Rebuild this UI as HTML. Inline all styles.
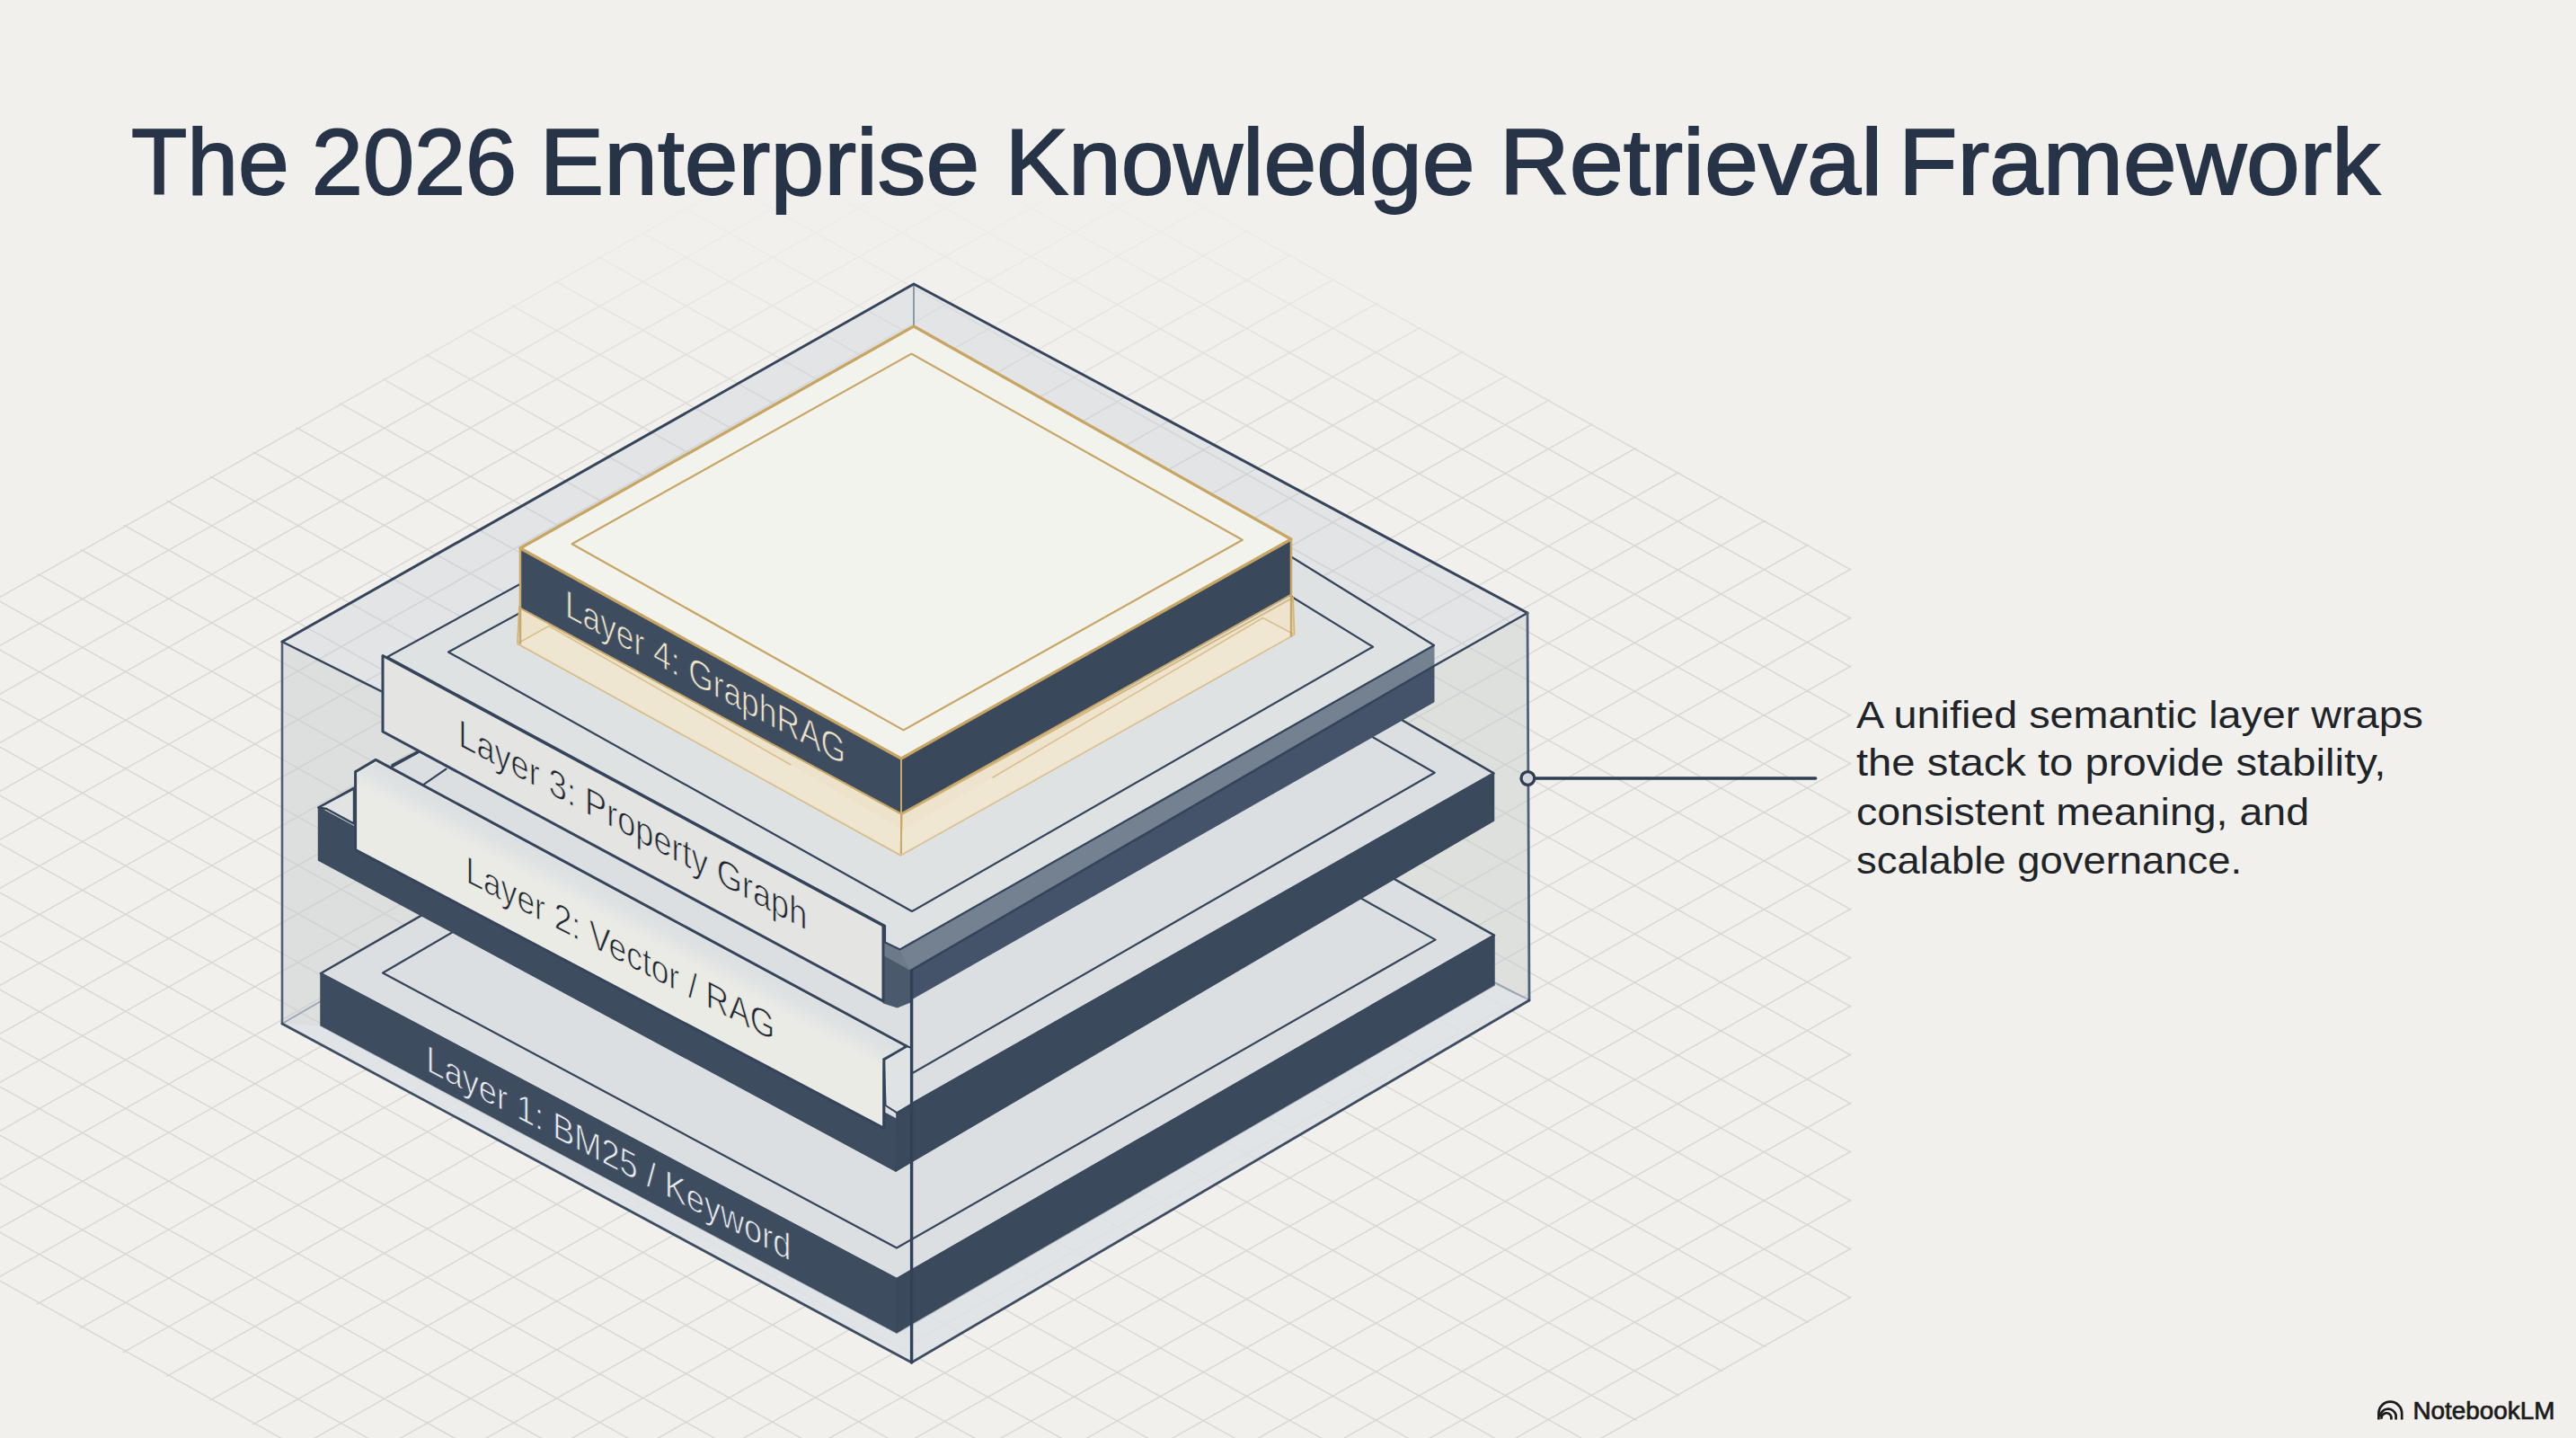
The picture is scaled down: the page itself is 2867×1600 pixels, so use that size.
<!DOCTYPE html>
<html lang="en"><head><meta charset="utf-8"><title>The 2026 Enterprise Knowledge Retrieval Framework</title>
<style>html,body{margin:0;padding:0;background:#f1f0ec;}body{width:2867px;height:1600px;overflow:hidden;}svg{display:block;}</style>
</head><body>
<svg width="2867" height="1600" viewBox="0 0 2867 1600">
<rect x="0" y="0" width="2867" height="1600" fill="#f1f0ec"/>
<defs>
<clipPath id="gclip"><polygon points="-2,663 1051.5,67.6 2060.4,632.4 2060.4,1444.6 1783.7,1602 311.5,1602 -2,1427.5"/></clipPath>
<linearGradient id="gfadeT" x1="0" y1="0" x2="0" y2="1"><stop offset="0" stop-color="#fff" stop-opacity="0"/><stop offset="1" stop-color="#fff" stop-opacity="1"/></linearGradient>
<mask id="gmask" maskUnits="userSpaceOnUse" x="0" y="0" width="2867" height="1600"><rect x="0" y="0" width="2867" height="1600" fill="#000"/><rect x="0" y="200" width="2867" height="300" fill="url(#gfadeT)"/><rect x="0" y="499.5" width="2867" height="1101" fill="#fff"/></mask>
</defs>
<g clip-path="url(#gclip)"><g stroke="#cbcccb" stroke-width="1.5" opacity="0.66" mask="url(#gmask)">
<line x1="0" y1="-1112.9" x2="2100" y2="62.4"/>
<line x1="0" y1="-1058.9" x2="2100" y2="116.4"/>
<line x1="0" y1="-1004.9" x2="2100" y2="170.4"/>
<line x1="0" y1="-950.9" x2="2100" y2="224.4"/>
<line x1="0" y1="-896.9" x2="2100" y2="278.4"/>
<line x1="0" y1="-842.9" x2="2100" y2="332.4"/>
<line x1="0" y1="-788.9" x2="2100" y2="386.4"/>
<line x1="0" y1="-734.9" x2="2100" y2="440.4"/>
<line x1="0" y1="-680.9" x2="2100" y2="494.4"/>
<line x1="0" y1="-626.9" x2="2100" y2="548.4"/>
<line x1="0" y1="-572.9" x2="2100" y2="602.4"/>
<line x1="0" y1="-518.9" x2="2100" y2="656.4"/>
<line x1="0" y1="-464.9" x2="2100" y2="710.4"/>
<line x1="0" y1="-410.9" x2="2100" y2="764.4"/>
<line x1="0" y1="-356.9" x2="2100" y2="818.4"/>
<line x1="0" y1="-302.9" x2="2100" y2="872.4"/>
<line x1="0" y1="-248.9" x2="2100" y2="926.4"/>
<line x1="0" y1="-194.9" x2="2100" y2="980.4"/>
<line x1="0" y1="-140.9" x2="2100" y2="1034.4"/>
<line x1="0" y1="-86.9" x2="2100" y2="1088.4"/>
<line x1="0" y1="-32.9" x2="2100" y2="1142.4"/>
<line x1="0" y1="21.1" x2="2100" y2="1196.4"/>
<line x1="0" y1="75.1" x2="2100" y2="1250.4"/>
<line x1="0" y1="129.1" x2="2100" y2="1304.4"/>
<line x1="0" y1="183.1" x2="2100" y2="1358.4"/>
<line x1="0" y1="237.1" x2="2100" y2="1412.4"/>
<line x1="0" y1="291.1" x2="2100" y2="1466.4"/>
<line x1="0" y1="345.1" x2="2100" y2="1520.4"/>
<line x1="0" y1="399.1" x2="2100" y2="1574.4"/>
<line x1="0" y1="453.1" x2="2100" y2="1628.4"/>
<line x1="0" y1="507.1" x2="2100" y2="1682.4"/>
<line x1="0" y1="561.1" x2="2100" y2="1736.4"/>
<line x1="0" y1="615.1" x2="2100" y2="1790.4"/>
<line x1="0" y1="669.1" x2="2100" y2="1844.4"/>
<line x1="0" y1="723.1" x2="2100" y2="1898.4"/>
<line x1="0" y1="777.1" x2="2100" y2="1952.4"/>
<line x1="0" y1="831.1" x2="2100" y2="2006.4"/>
<line x1="0" y1="885.1" x2="2100" y2="2060.4"/>
<line x1="0" y1="939.1" x2="2100" y2="2114.4"/>
<line x1="0" y1="993.1" x2="2100" y2="2168.4"/>
<line x1="0" y1="1047.1" x2="2100" y2="2222.4"/>
<line x1="0" y1="1101.1" x2="2100" y2="2276.4"/>
<line x1="0" y1="1155.1" x2="2100" y2="2330.4"/>
<line x1="0" y1="1209.1" x2="2100" y2="2384.4"/>
<line x1="0" y1="1263.1" x2="2100" y2="2438.4"/>
<line x1="0" y1="1317.1" x2="2100" y2="2492.4"/>
<line x1="0" y1="1371.1" x2="2100" y2="2546.4"/>
<line x1="0" y1="1425.1" x2="2100" y2="2600.4"/>
<line x1="0" y1="1479.1" x2="2100" y2="2654.4"/>
<line x1="0" y1="1533.1" x2="2100" y2="2708.4"/>
<line x1="0" y1="1587.1" x2="2100" y2="2762.4"/>
<line x1="0" y1="124.3" x2="2100" y2="-1063.5"/>
<line x1="0" y1="178.3" x2="2100" y2="-1009.5"/>
<line x1="0" y1="232.3" x2="2100" y2="-955.5"/>
<line x1="0" y1="286.3" x2="2100" y2="-901.5"/>
<line x1="0" y1="340.3" x2="2100" y2="-847.5"/>
<line x1="0" y1="394.3" x2="2100" y2="-793.5"/>
<line x1="0" y1="448.3" x2="2100" y2="-739.5"/>
<line x1="0" y1="502.3" x2="2100" y2="-685.5"/>
<line x1="0" y1="556.3" x2="2100" y2="-631.5"/>
<line x1="0" y1="610.3" x2="2100" y2="-577.5"/>
<line x1="0" y1="664.3" x2="2100" y2="-523.5"/>
<line x1="0" y1="718.3" x2="2100" y2="-469.5"/>
<line x1="0" y1="772.3" x2="2100" y2="-415.5"/>
<line x1="0" y1="826.3" x2="2100" y2="-361.5"/>
<line x1="0" y1="880.3" x2="2100" y2="-307.5"/>
<line x1="0" y1="934.3" x2="2100" y2="-253.5"/>
<line x1="0" y1="988.3" x2="2100" y2="-199.5"/>
<line x1="0" y1="1042.3" x2="2100" y2="-145.5"/>
<line x1="0" y1="1096.3" x2="2100" y2="-91.5"/>
<line x1="0" y1="1150.3" x2="2100" y2="-37.5"/>
<line x1="0" y1="1204.3" x2="2100" y2="16.5"/>
<line x1="0" y1="1258.3" x2="2100" y2="70.5"/>
<line x1="0" y1="1312.3" x2="2100" y2="124.5"/>
<line x1="0" y1="1366.3" x2="2100" y2="178.5"/>
<line x1="0" y1="1420.3" x2="2100" y2="232.5"/>
<line x1="0" y1="1474.3" x2="2100" y2="286.5"/>
<line x1="0" y1="1528.3" x2="2100" y2="340.5"/>
<line x1="0" y1="1582.3" x2="2100" y2="394.5"/>
<line x1="0" y1="1636.3" x2="2100" y2="448.5"/>
<line x1="0" y1="1690.3" x2="2100" y2="502.5"/>
<line x1="0" y1="1744.3" x2="2100" y2="556.5"/>
<line x1="0" y1="1798.3" x2="2100" y2="610.5"/>
<line x1="0" y1="1852.3" x2="2100" y2="664.5"/>
<line x1="0" y1="1906.3" x2="2100" y2="718.5"/>
<line x1="0" y1="1960.3" x2="2100" y2="772.5"/>
<line x1="0" y1="2014.3" x2="2100" y2="826.5"/>
<line x1="0" y1="2068.3" x2="2100" y2="880.5"/>
<line x1="0" y1="2122.3" x2="2100" y2="934.5"/>
<line x1="0" y1="2176.3" x2="2100" y2="988.5"/>
<line x1="0" y1="2230.3" x2="2100" y2="1042.5"/>
<line x1="0" y1="2284.3" x2="2100" y2="1096.5"/>
<line x1="0" y1="2338.3" x2="2100" y2="1150.5"/>
<line x1="0" y1="2392.3" x2="2100" y2="1204.5"/>
<line x1="0" y1="2446.3" x2="2100" y2="1258.5"/>
<line x1="0" y1="2500.3" x2="2100" y2="1312.5"/>
<line x1="0" y1="2554.3" x2="2100" y2="1366.5"/>
<line x1="0" y1="2608.3" x2="2100" y2="1420.5"/>
<line x1="0" y1="2662.3" x2="2100" y2="1474.5"/>
<line x1="0" y1="2716.3" x2="2100" y2="1528.5"/>
<line x1="0" y1="2770.3" x2="2100" y2="1582.5"/>
</g></g>
<polygon points="1017.0,316.0 314.0,714.0 1014.6,1052.0 1700.0,682.0" fill="#c3cad6" stroke="none" stroke-width="0" stroke-linejoin="round" opacity="0.32"/>
<polygon points="314.0,714.0 1014.6,1052.0 1014.6,1516.0 314.0,1139.0" fill="#c6cacd" stroke="none" stroke-width="0" stroke-linejoin="round" opacity="0.46"/>
<polygon points="1014.6,1052.0 1700.0,682.0 1702.0,1113.0 1014.6,1516.0" fill="#c6cacd" stroke="none" stroke-width="0" stroke-linejoin="round" opacity="0.44"/>
<polyline points="1017.0,316.0 1017.0,365.0" fill="none" stroke="#8b98a8" stroke-width="2" stroke-linecap="round" stroke-linejoin="round" />
<polyline points="314.0,1139.0 357.0,1114.0" fill="none" stroke="#9aa6b4" stroke-width="2" stroke-linecap="round" stroke-linejoin="round" />
<polyline points="1702.0,1113.0 1663.0,1093.0" fill="none" stroke="#9aa6b4" stroke-width="2" stroke-linecap="round" stroke-linejoin="round" />
<polygon points="357.0,1083.0 1040.0,690.0 1663.0,1040.6 998.0,1423.0" fill="#dcdfe1" stroke="#34445a" stroke-width="2.5" stroke-linejoin="round" />
<polyline points="1030.0,730.0 426.0,1082.5 998.0,1388.5 1597.5,1045.6 1030.0,730.0" fill="none" stroke="#34445a" stroke-width="2.2" stroke-linecap="round" stroke-linejoin="round" />
<polygon points="357.0,1083.0 998.0,1423.0 998.0,1483.5 357.0,1141.5" fill="#3e4c5f" stroke="#3e4c5f" stroke-width="1.5" stroke-linejoin="round" />
<polygon points="998.0,1423.0 1663.0,1040.6 1663.0,1096.6 998.0,1483.5" fill="#3b495c" stroke="#3b495c" stroke-width="1.5" stroke-linejoin="round" />
<polygon points="357.0,1141.5 998.0,1483.5 1014.6,1473.6 1014.6,1516.0 314.0,1139.0" fill="#e2e6ea" stroke="none" stroke-width="0" stroke-linejoin="round" opacity="0.75"/>
<polygon points="1014.6,1473.6 1663.0,1096.6 1702.0,1113.0 1014.6,1516.0" fill="#e2e6ea" stroke="none" stroke-width="0" stroke-linejoin="round" opacity="0.7"/>
<polygon points="354.5,898.5 1056.5,509.0 1662.5,860.4 1014.6,1228.3 998.0,1238.0 983.8,1178.6 396.0,858.0 396.0,875.5" fill="#dcdfe1" stroke="#34445a" stroke-width="2.5" stroke-linejoin="round" />
<polyline points="986.5,1197.5 998.3,1203.9 1596.7,859.7 1100.0,575.0" fill="none" stroke="#34445a" stroke-width="2.2" stroke-linecap="round" stroke-linejoin="round" />
<polygon points="354.5,898.5 997.0,1245.0 997.0,1303.0 354.5,957.0" fill="#3e4c5f" stroke="#3e4c5f" stroke-width="1.5" stroke-linejoin="round" />
<polygon points="998.0,1238.0 1014.6,1228.3 1662.5,860.4 1662.5,913.0 997.0,1303.0" fill="#3b495c" stroke="#3b495c" stroke-width="1.5" stroke-linejoin="round" />
<polygon points="354.5,898.5 394.0,877.5 394.0,916.6 363.5,900.0" fill="#e2e4e4" stroke="#34445a" stroke-width="2.4" stroke-linejoin="round" />
<polyline points="437.0,851.6 463.6,837.6" fill="none" stroke="#34445a" stroke-width="3.4" stroke-linecap="round" stroke-linejoin="round" />
<polyline points="471.5,872.8 496.5,855.6" fill="none" stroke="#34445a" stroke-width="2.2" stroke-linecap="round" stroke-linejoin="round" />
<polygon points="983.8,1178.6 1009.0,1164.0 1014.6,1166.0 1014.6,1228.3 998.3,1238.2 985.6,1230.0" fill="#e0e3e4" stroke="#34445a" stroke-width="2" stroke-linejoin="round" />
<polygon points="395.6,858.7 418.2,845.4 1009.0,1164.0 983.8,1178.6 983.8,1255.4 395.6,945.5" fill="#ebebe6" stroke="#34445a" stroke-width="3" stroke-linejoin="round" />
<defs><linearGradient id="l2band" gradientUnits="userSpaceOnUse" x1="600" y1="943.5" x2="582" y2="977"><stop offset="0" stop-color="#dadee1" stop-opacity="0.95"/><stop offset="0.45" stop-color="#dde1e3" stop-opacity="0.8"/><stop offset="1" stop-color="#e4e6e5" stop-opacity="0"/></linearGradient></defs>
<polygon points="398.0,860.0 419.0,848.5 1006.0,1165.0 985.0,1177.5 985.0,1222.0 398.0,905.0" fill="url(#l2band)" stroke="none" stroke-width="0" stroke-linejoin="round" />
<polyline points="983.8,1178.6 983.8,1255.4" fill="none" stroke="#34445a" stroke-width="2.6" stroke-linecap="round" stroke-linejoin="round" />
<polyline points="983.8,1178.6 1009.0,1164.0" fill="none" stroke="#34445a" stroke-width="2.4" stroke-linecap="round" stroke-linejoin="round" />
<polygon points="1001.7,1056.4 1596.0,718.0 1596.0,741.0 1013.5,1080.0" fill="#748191" stroke="#748191" stroke-width="1" stroke-linejoin="round" />
<polygon points="1013.5,1080.0 1596.0,741.0 1596.0,781.0 1015.8,1111.2" fill="#44536a" stroke="#44536a" stroke-width="1" stroke-linejoin="round" />
<polygon points="983.0,1060.0 1013.5,1080.0 1013.5,1115.0 998.6,1121.0 983.0,1116.0" fill="#4a596c" stroke="#4a596c" stroke-width="1" stroke-linejoin="round" />
<polygon points="983.0,1048.0 1001.7,1056.4 1013.5,1080.0 983.0,1063.0" fill="#6d7a8a" stroke="none" stroke-width="0" stroke-linejoin="round" />
<polygon points="431.0,731.0 934.2,455.0 1167.2,452.4 1596.0,718.0 1001.7,1056.4 985.0,1048.6 985.0,1030.0" fill="#dee2e3" stroke="#34445a" stroke-width="2.2" stroke-linejoin="round" />
<polyline points="1050.0,425.0 499.0,725.5 1015.0,1014.0 1528.0,719.7 1050.0,425.0" fill="none" stroke="#34445a" stroke-width="2.2" stroke-linecap="round" stroke-linejoin="round" />
<polyline points="1700.0,682.0 1596.0,741.0 1013.5,1080.0" fill="none" stroke="#34445a" stroke-width="2.5" stroke-linecap="round" stroke-linejoin="round" />
<polygon points="426.0,729.5 983.0,1030.0 983.0,1114.0 426.0,814.0" fill="#e4e4e3" stroke="#34445a" stroke-width="3" stroke-linejoin="round" />
<polygon points="578.0,675.0 1003.8,906.2 1002.4,951.5 576.0,716.0" fill="#ede3cb" stroke="#d3b77c" stroke-width="2" stroke-linejoin="round" />
<polygon points="1003.8,906.2 1439.0,665.0 1440.5,706.0 1002.4,951.5" fill="#eee4cd" stroke="#d3b77c" stroke-width="2" stroke-linejoin="round" />
<polygon points="1440.5,706.0 1405.5,687.5 1100.0,868.0 1002.4,925.0 1002.4,951.5" fill="#f2ead9" stroke="none" stroke-width="0" stroke-linejoin="round" opacity="0.55"/>
<polyline points="1440.5,706.0 1405.5,687.5 1105.0,865.0" fill="none" stroke="#d9c08c" stroke-width="1.6" stroke-linecap="round" stroke-linejoin="round" />
<polygon points="576.0,716.0 611.0,696.5 900.0,862.0 1002.4,922.0 1002.4,951.5" fill="#f2ead9" stroke="none" stroke-width="0" stroke-linejoin="round" opacity="0.5"/>
<polyline points="576.0,716.0 611.0,696.5 880.0,851.0" fill="none" stroke="#d9c08c" stroke-width="1.6" stroke-linecap="round" stroke-linejoin="round" />
<polygon points="579.0,610.0 1003.0,844.0 1003.0,905.4 579.0,676.7" fill="#3e4c5f" stroke="#3e4c5f" stroke-width="1" stroke-linejoin="round" />
<polygon points="1003.0,844.0 1437.0,600.0 1437.0,661.7 1003.0,905.4" fill="#3a485b" stroke="#3a485b" stroke-width="1" stroke-linejoin="round" />
<polyline points="579.0,676.7 1003.0,905.4 1437.0,661.7" fill="none" stroke="#c9a96a" stroke-width="2" stroke-linecap="round" stroke-linejoin="round" />
<polyline points="1003.0,844.0 1003.0,949.4" fill="none" stroke="#c9a96a" stroke-width="2" stroke-linecap="round" stroke-linejoin="round" />
<polygon points="1017.0,363.0 579.0,610.0 1003.0,844.0 1437.0,600.0" fill="#f3f3ee" stroke="#c7a563" stroke-width="3.2" stroke-linejoin="round" />
<polygon points="1014.4,393.6 636.6,605.2 1005.5,812.4 1382.8,600.8" fill="none" stroke="#c7a563" stroke-width="2.2" stroke-linejoin="round" />
<polyline points="579.0,610.0 579.0,715.4" fill="none" stroke="#c9a96a" stroke-width="2.5" stroke-linecap="round" stroke-linejoin="round" />
<polyline points="1437.0,600.0 1437.0,707.4" fill="none" stroke="#c9a96a" stroke-width="2.5" stroke-linecap="round" stroke-linejoin="round" />
<polyline points="314.0,714.0 1017.0,316.0 1700.0,682.0" fill="none" stroke="#34445a" stroke-width="3.0" stroke-linecap="round" stroke-linejoin="round" />
<polyline points="314.0,714.0 314.0,1139.0" fill="none" stroke="#506177" stroke-width="2.6" stroke-linecap="round" stroke-linejoin="round" />
<polyline points="1700.0,682.0 1702.0,1113.0" fill="none" stroke="#506177" stroke-width="2.8" stroke-linecap="round" stroke-linejoin="round" />
<polyline points="314.0,1139.0 1014.6,1516.0 1702.0,1113.0" fill="none" stroke="#3c4c61" stroke-width="2.8" stroke-linecap="round" stroke-linejoin="round" />
<polyline points="1014.6,1080.0 1014.6,1516.0" fill="none" stroke="#30425a" stroke-width="3.4" stroke-linecap="round" stroke-linejoin="round" />
<polyline points="314.0,714.0 424.0,769.0" fill="none" stroke="#34445a" stroke-width="2.5" stroke-linecap="round" stroke-linejoin="round" />
<polyline points="1709.0,866.0 2020.7,866.0" fill="none" stroke="#2f3e52" stroke-width="3.4" stroke-linecap="round" stroke-linejoin="round" />
<circle cx="1700.4" cy="866" r="7.4" fill="#d3d7dc" stroke="#2f3e52" stroke-width="3.3"/>
<text font-family="'Liberation Sans', 'DejaVu Sans', sans-serif" font-size="103" fill="#273447" stroke="#273447" stroke-width="1.8" y="215.8">
<tspan x="145.9" textLength="175.7" lengthAdjust="spacingAndGlyphs">The</tspan> 
<tspan x="346.8" textLength="228.4" lengthAdjust="spacingAndGlyphs">2026</tspan> 
<tspan x="600.6" textLength="489.7" lengthAdjust="spacingAndGlyphs">Enterprise</tspan> 
<tspan x="1118.6" textLength="522.9" lengthAdjust="spacingAndGlyphs">Knowledge</tspan> 
<tspan x="1668.7" textLength="426.5" lengthAdjust="spacingAndGlyphs">Retrieval</tspan> 
<tspan x="2112.9" textLength="536.1" lengthAdjust="spacingAndGlyphs">Framework</tspan> 
</text>
<text font-family="'Liberation Sans', 'DejaVu Sans', sans-serif" font-size="42" fill="#1f2429" x="2066" y="809.7" textLength="631.0" lengthAdjust="spacingAndGlyphs">A unified semantic layer wraps</text>
<text font-family="'Liberation Sans', 'DejaVu Sans', sans-serif" font-size="42" fill="#1f2429" x="2066" y="863" textLength="589.4" lengthAdjust="spacingAndGlyphs">the stack to provide stability,</text>
<text font-family="'Liberation Sans', 'DejaVu Sans', sans-serif" font-size="42" fill="#1f2429" x="2066" y="917.7" textLength="504.0" lengthAdjust="spacingAndGlyphs">consistent meaning, and</text>
<text font-family="'Liberation Sans', 'DejaVu Sans', sans-serif" font-size="42" fill="#1f2429" x="2066" y="972" textLength="429.2" lengthAdjust="spacingAndGlyphs">scalable governance.</text>
<text font-family="'Liberation Sans', 'DejaVu Sans', sans-serif" font-size="43" fill="#ece3c8" stroke="#3e4c5f" stroke-width="0.9" paint-order="fill stroke" transform="matrix(1,0.5345,0,1,628.9,685.3)" x="0" y="0" textLength="312.0" lengthAdjust="spacingAndGlyphs">Layer 4: GraphRAG</text>
<text font-family="'Liberation Sans', 'DejaVu Sans', sans-serif" font-size="43" fill="#1f2830" stroke="#e4e4e3" stroke-width="0.9" paint-order="fill stroke" transform="matrix(1,0.5315,0,1,510.3,829.3)" x="0" y="0" textLength="388.0" lengthAdjust="spacingAndGlyphs">Layer 3: Property Graph</text>
<text font-family="'Liberation Sans', 'DejaVu Sans', sans-serif" font-size="42" fill="#1f2830" stroke="#ebebe6" stroke-width="0.9" paint-order="fill stroke" transform="matrix(1,0.517,0,1,518.4,981.0)" x="0" y="0" textLength="343.8" lengthAdjust="spacingAndGlyphs">Layer 2: Vector / RAG</text>
<text font-family="'Liberation Sans', 'DejaVu Sans', sans-serif" font-size="41.5" fill="#e8ebee" stroke="#3e4c5f" stroke-width="0.9" paint-order="fill stroke" transform="matrix(1,0.5236,0,1,474.6,1191.0)" x="0" y="0" textLength="405.7" lengthAdjust="spacingAndGlyphs">Layer 1: BM25 / Keyword</text>
<text font-family="'Liberation Sans', 'DejaVu Sans', sans-serif" font-size="26.8" fill="#1b1b1b" stroke="#1b1b1b" stroke-width="0.7" x="2685.5" y="1578.7" textLength="158" lengthAdjust="spacingAndGlyphs">NotebookLM</text>
<g fill="none" stroke="#1b1b1b" stroke-width="2.7" stroke-linecap="butt"><path d="M2647.4,1579.4 V1572.6 A12.9,12.9 0 0 1 2673.2,1572.6 V1579.4"/><path d="M2648.9,1576.6 A9,9 0 0 1 2666.6,1574.4 V1579.4"/><path d="M2650.6,1578.9 A5.4,5.4 0 0 1 2661.4,1576.6 V1579.4"/></g>
</svg>
</body></html>
